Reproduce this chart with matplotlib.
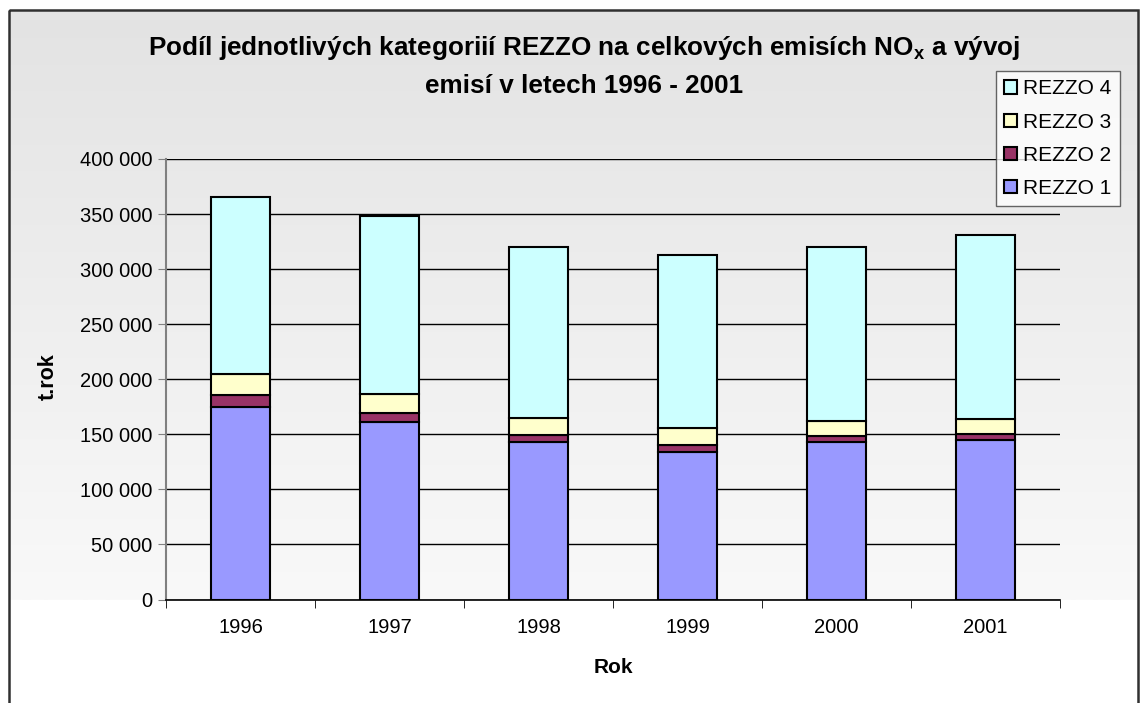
import numpy as np
import matplotlib
matplotlib.use("Agg")
import matplotlib.pyplot as plt
from matplotlib.patches import Patch, Rectangle
from matplotlib.ticker import FuncFormatter, MultipleLocator

# data (t/rok)
years = ['1996', '1997', '1998', '1999', '2000', '2001']
rezzo1 = [174800, 161500, 142700, 134200, 143000, 144800]
rezzo2 = [10700, 8200, 7000, 6400, 5500, 5200]
rezzo3 = [19700, 17300, 15100, 15400, 13600, 13600]
rezzo4 = [160000, 161500, 155500, 156700, 157900, 167600]
series_names = ['REZZO 1', 'REZZO 2', 'REZZO 3', 'REZZO 4']
colors = ['#9999FF', '#993366', '#FFFFCC', '#CCFFFF']

plt.rcParams['font.family'] = ['Liberation Sans', 'DejaVu Sans']
plt.rcParams['mathtext.fontset'] = 'custom'
plt.rcParams['mathtext.rm'] = 'Liberation Sans'
plt.rcParams['mathtext.bf'] = 'Liberation Sans:bold'

W, H = 1143, 703
fig = plt.figure(figsize=(W / 100, H / 100), dpi=100)
fig.patch.set_facecolor('white')

# background: gray gradient down to the zero line, frame around
bg = fig.add_axes([0, 0, 1, 1], zorder=-5)
bg.set_xlim(0, W)
bg.set_ylim(H, 0)
bg.axis('off')
grad = np.linspace(0, 1, 256).reshape(-1, 1)
bg.imshow(grad, extent=[9, 1138, 600, 10], aspect='auto',
          cmap=matplotlib.colors.LinearSegmentedColormap.from_list('g', ['#e3e3e3', '#f9f9f9']),
          interpolation='bilinear')
bg.add_patch(Rectangle((8.5, 9.5), 1129, 720, fill=False, edgecolor='#303030', linewidth=1.8))

ax = fig.add_axes([166 / W, 1 - 599.5 / H, (1060 - 166) / W, (599.5 - 159) / H])
ax.set_facecolor('none')

x = np.arange(len(years))
bottom = np.zeros(len(years))
handles = []
for name, vals, c in zip(series_names, [rezzo1, rezzo2, rezzo3, rezzo4], colors):
    ax.bar(x, vals, width=0.4, bottom=bottom, color=c, edgecolor='black', linewidth=1.5, zorder=3)
    bottom += np.array(vals)
    handles.append(Patch(facecolor=c, edgecolor='black', linewidth=1.5, label=name))

ax.set_xlim(-0.5, len(years) - 0.5)
ax.set_ylim(0, 400000)
ax.yaxis.set_major_locator(MultipleLocator(50000))
ax.yaxis.set_major_formatter(FuncFormatter(lambda v, p: f'{int(v):,}'.replace(',', ' ')))
ax.grid(axis='y', color='black', linewidth=1.0, zorder=0)
ax.set_axisbelow(True)

ax.set_xticks(x)
ax.set_xticklabels(years)
ax.set_xticks(np.arange(-0.5, len(years)), minor=True)
ax.tick_params(axis='x', which='major', length=0, pad=13, labelsize=14.5)
ax.tick_params(axis='x', which='minor', length=6, direction='out', color='black')
ax.tick_params(axis='y', length=6, direction='out', color='#808080', labelsize=14.5, pad=4)

for s in ['top', 'right']:
    ax.spines[s].set_visible(False)
ax.spines['left'].set_color('#808080')
ax.spines['left'].set_linewidth(1.5)
ax.spines['bottom'].set_color('black')
ax.spines['bottom'].set_linewidth(1.2)

ax.set_xlabel('Rok', fontsize=15, fontweight='bold')
ax.set_ylabel('t.rok', fontsize=15.5, fontweight='bold')
ax.xaxis.set_label_coords(0.5, -0.1555)
ax.yaxis.set_label_coords(-0.132, 0.505)
ax.xaxis.label.set_va('center')
ax.yaxis.label.set_va('center')

fig.text(584 / W, 1 - 48 / H,
         r'Podíl jednotlivých kategoriií REZZO na celkových emisích NO$_\mathbf{x}$ a vývoj',
         ha='center', va='center', fontsize=18.8, fontweight='bold')
fig.text(584 / W, 1 - 86 / H, 'emisí v letech 1996 - 2001',
         ha='center', va='center', fontsize=18.8, fontweight='bold')

leg = fig.legend(handles=handles[::-1], loc='upper left',
                 bbox_to_anchor=(996 / W, 1 - 71 / H), fontsize=15,
                 frameon=True, fancybox=False, handlelength=0.6, handleheight=0.6,
                 handletextpad=0.3, labelspacing=0.68, borderpad=0.4, borderaxespad=0)
leg.get_frame().set_edgecolor('#404040')
leg.get_frame().set_linewidth(1.0)
leg.get_frame().set_facecolor('white')

fig.savefig('out.png', dpi=100)
